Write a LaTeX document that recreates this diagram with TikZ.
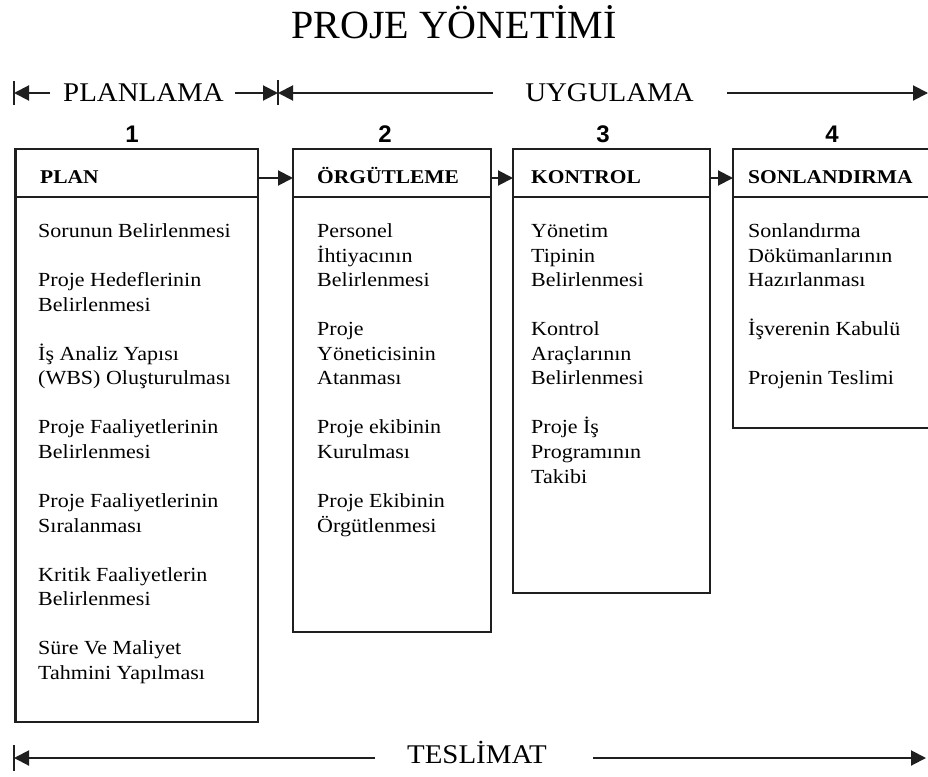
\documentclass[tikz,border=0pt]{standalone}
\usepackage{fontspec}
\setmainfont{Liberation Serif}
\newfontfamily\bodyfont{Liberation Serif}[FakeStretch=1.1]
\newfontfamily\labelfont{Liberation Serif}[FakeStretch=1.07]
\newfontfamily\numfont{Liberation Sans}
\usetikzlibrary{arrows.meta,calc}

\begin{document}
\begin{tikzpicture}[x=1pt,y=-1pt,
  box/.style={draw=black!88,line width=2.7pt,outer sep=0pt,inner sep=0pt,anchor=north west},
  divider/.style={draw=black!88,line width=2.7pt},
  head/.style={font=\bodyfont\bfseries\fontsize{19.5}{22}\selectfont,anchor=base west,inner sep=0pt,text=black},
  item/.style={font=\bodyfont\fontsize{20}{24}\selectfont,anchor=base west,inner sep=0pt,text=black},
  num/.style={font=\numfont\bfseries\fontsize{24}{27}\selectfont,anchor=base,inner sep=0pt,text=black},
  phase/.style={font=\labelfont\fontsize{27}{30}\selectfont,anchor=base,inner sep=0pt,text=black},
  link/.style={line width=2pt,draw=black!88},
  tip/.style={-{Triangle[length=15pt,width=15pt]}},
]
\useasboundingbox (0,0) rectangle (928,776);

% title
\node[font=\fontsize{40}{45}\selectfont,anchor=base,inner sep=0pt,text=black] (title) at (454,39) {PROJE YÖNETİMİ};

% phase timeline on top
\coordinate (barA1) at (14,81);   \coordinate (barA2) at (14,105);
\coordinate (barB1) at (278,80);  \coordinate (barB2) at (278,105);
\draw[link] (barA1) -- (barA2);
\draw[link] (barB1) -- (barB2);
\coordinate (tA) at (14,93);
\coordinate (tB) at (278,93);
\coordinate (pl1) at (50,93);  \coordinate (pl2) at (235,93);
\coordinate (uy1) at (493,93); \coordinate (uy2) at (727,93);
\coordinate (tEnd) at (928,93);
\node[phase] (planlama) at (143.5,101.5) {PLANLAMA};
\node[phase] (uygulama) at (609.5,101.5) {UYGULAMA};
\draw[link,tip] (pl1) -- (tA);
\draw[link,tip] (pl2) -- (tB);
\draw[link,tip] (uy1) -- (tB);
\draw[link,tip] (uy2) -- (tEnd);

% step numbers
\node[num] (n1) at (132,142) {1};
\node[num] (n2) at (385,142) {2};
\node[num] (n3) at (603,142) {3};
\node[num] (n4) at (832,142) {4};

% the four boxes
\node[box,minimum width=242.5pt,minimum height=573pt] (b1) at (15.5,149) {};
\node[box,minimum width=198pt,minimum height=483pt] (b2) at (293,149) {};
\node[box,minimum width=197pt,minimum height=444pt] (b3) at (513,149) {};
\node[box,minimum width=200pt,minimum height=279pt] (b4) at (733,149) {};
\foreach \b in {b1,b2,b3,b4}
  \draw[divider] (\b.west |- 0,197) -- (\b.east |- 0,197);

% headers
\node[head] (h1) at (40,183.3) {PLAN};
\node[head] (h2) at (317,183.3) {ÖRGÜTLEME};
\node[head] (h3) at (531,183.3) {KONTROL};
\node[head] (h4) at (748,183.3) {SONLANDIRMA};

% arrows between boxes
\draw[link,tip] (b1.east |- 0,178) -- (b2.west |- 0,178);
\draw[link,tip] (b2.east |- 0,178) -- (b3.west |- 0,178);
\draw[link,tip] (b3.east |- 0,178) -- (b4.west |- 0,178);

% box contents (line index / text)
\foreach \n/\t [count=\k] in {0/Sorunun Belirlenmesi, 2/Proje Hedeflerinin, 3/Belirlenmesi,
    5/İş Analiz Yapısı, 6/{(WBS) Oluşturulması}, 8/Proje Faaliyetlerinin, 9/Belirlenmesi,
    11/Proje Faaliyetlerinin, 12/Sıralanması, 14/Kritik Faaliyetlerin, 15/Belirlenmesi,
    17/Süre Ve Maliyet, 18/Tahmini Yapılması}
  \node[item] (p\k) at (38,237.5+\n*24.55) {\t};

\foreach \n/\t [count=\k] in {0/Personel, 1/İhtiyacının, 2/Belirlenmesi, 4/Proje,
    5/Yöneticisinin, 6/Atanması, 8/Proje ekibinin, 9/Kurulması, 11/Proje Ekibinin,
    12/Örgütlenmesi}
  \node[item] (o\k) at (317,237.5+\n*24.55) {\t};

\foreach \n/\t [count=\k] in {0/Yönetim, 1/Tipinin, 2/Belirlenmesi, 4/Kontrol,
    5/Araçlarının, 6/Belirlenmesi, 8/Proje İş, 9/Programının, 10/Takibi}
  \node[item] (k\k) at (531,237.5+\n*24.55) {\t};

\foreach \n/\t [count=\k] in {0/Sonlandırma, 1/Dökümanlarının, 2/Hazırlanması,
    4/İşverenin Kabulü, 6/Projenin Teslimi}
  \node[item] (s\k) at (748,237.5+\n*24.55) {\t};

% delivery line at the bottom
\coordinate (barC1) at (14,745); \coordinate (barC2) at (14,771);
\draw[link] (barC1) -- (barC2);
\coordinate (dA) at (14,758);
\coordinate (ds1) at (375,758); \coordinate (ds2) at (593,758);
\coordinate (dEnd) at (926,758);
\node[phase] (teslimat) at (477,763) {TESLİMAT};
\draw[link,tip] (ds1) -- (dA);
\draw[link,tip] (ds2) -- (dEnd);
\end{tikzpicture}
\end{document}
